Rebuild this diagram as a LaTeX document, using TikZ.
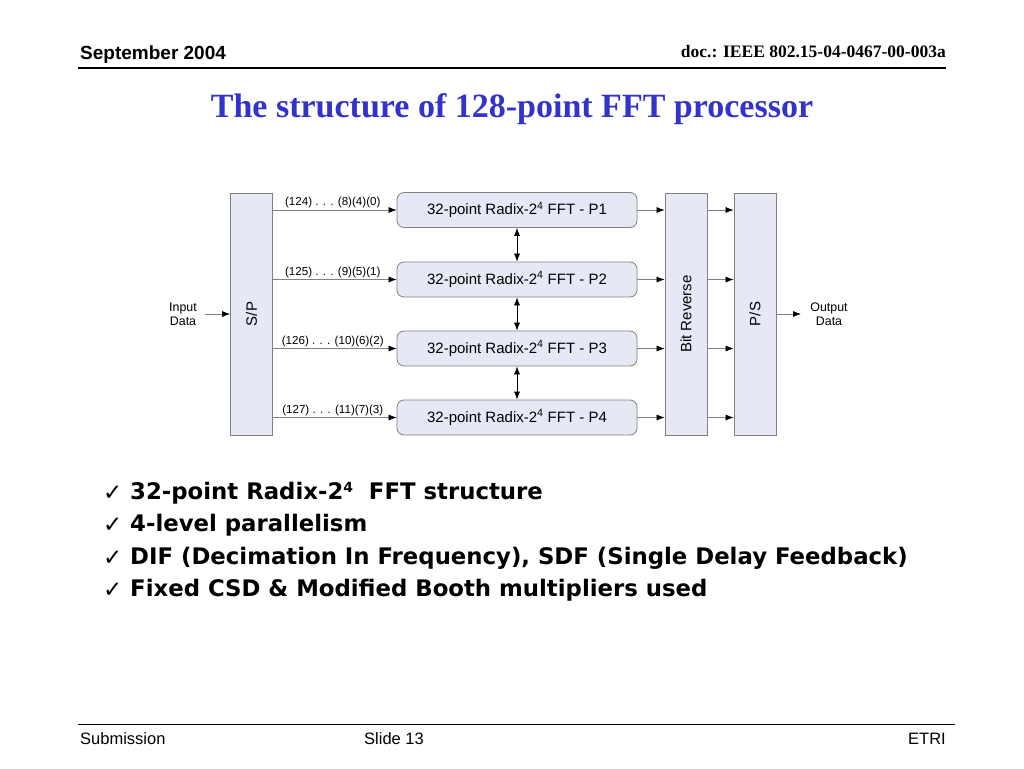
\documentclass[tikz,border=0pt]{standalone}
\usepackage{fontspec}
\setmainfont{Liberation Serif}
\setsansfont{Liberation Sans}
\newfontfamily\verd{DejaVu Sans}
\usetikzlibrary{arrows.meta}
\definecolor{boxfill}{RGB}{230,233,245}
\definecolor{boxline}{RGB}{128,128,128}
\definecolor{titleblue}{RGB}{51,51,204}
\newcommand{\smallsup}[1]{\raisebox{0.55ex}{\fontsize{14}{16}\selectfont #1}}
\begin{document}
\begin{tikzpicture}[x=1pt,y=-1pt,
  blk/.style={draw=boxline, fill=boxfill, line width=0.8pt, inner sep=0pt},
  fftbox/.style={blk, rounded corners=7pt, minimum width=240pt, minimum height=35pt, font=\sffamily\fontsize{15}{17}\selectfont},
  tallbox/.style={blk, minimum width=42pt, minimum height=242pt},
  rlabel/.style={rotate=90, font=\sffamily\fontsize{15}{17}\selectfont},
  arr/.style={draw=boxline, line width=0.7pt, -{Latex[length=8pt,width=6pt,color=black]}},
  darr/.style={draw=black, line width=0.7pt, {Latex[length=8pt,width=6pt]}-{Latex[length=8pt,width=6pt]}},
  idx/.style={font=\sffamily\fontsize{11.6}{13}\selectfont, inner sep=1.5pt},
  io/.style={font=\sffamily\fontsize{12.4}{14}\selectfont, align=center, inner sep=1pt},
  bullet/.style={anchor=west, font=\verd\bfseries\fontsize{22.8}{26}\selectfont, inner sep=0pt},
  tick/.style={anchor=west, font=\verd\fontsize{23}{26}\selectfont, inner sep=0pt}
]
\useasboundingbox (0,0) rectangle (1024,768);
\fill[white] (0,0) rectangle (1024,768);

% header
\node[anchor=west, font=\sffamily\bfseries\fontsize{19}{21}\selectfont, inner sep=0pt] (hdate) at (80,55) {September 2004};
\node[anchor=east, font=\bfseries\fontsize{17.5}{20}\selectfont, inner sep=0pt] (hdoc) at (946,52) {doc.: IEEE 802.15-04-0467-00-003a};
\draw[line width=1.5pt] (78,68) -- (946,68);
\node[font=\bfseries\fontsize{34}{38}\selectfont, text=titleblue] (title) at (512,109) {The structure of 128-point FFT processor};

% diagram boxes
\node[tallbox] (sp) at (251.5,314) {};
\node[rlabel] at (sp) {S/P};
\node[tallbox] (br) at (686,314) {};
\node[rlabel] at (br) {Bit Reverse};
\node[tallbox] (ps) at (755,314) {};
\node[rlabel] at (ps) {P/S};

\node[fftbox] (f1) at (517,210) {32-point Radix-2\textsuperscript{4} FFT - P1};
\node[fftbox] (f2) at (517,279.5) {32-point Radix-2\textsuperscript{4} FFT - P2};
\node[fftbox] (f3) at (517,348.5) {32-point Radix-2\textsuperscript{4} FFT - P3};
\node[fftbox] (f4) at (517,417.5) {32-point Radix-2\textsuperscript{4} FFT - P4};

% S/P to FFT
\draw[arr] (sp.east |- f1.west) -- node[idx, midway, above, xshift=-2pt] {(124) . . . (8)(4)(0)} (f1.west);
\draw[arr] (sp.east |- f2.west) -- node[idx, midway, above, xshift=-2pt] {(125) . . . (9)(5)(1)} (f2.west);
\draw[arr] (sp.east |- f3.west) -- node[idx, midway, above, xshift=-2pt] {(126) . . . (10)(6)(2)} (f3.west);
\draw[arr] (sp.east |- f4.west) -- node[idx, midway, above, xshift=-2pt] {(127) . . . (11)(7)(3)} (f4.west);

% FFT to Bit Reverse
\foreach \f in {f1,f2,f3,f4}{
  \draw[arr] (\f.east) -- (br.west |- \f.east);
  \draw[arr] (br.east |- \f.east) -- (ps.west |- \f.east);
}

% vertical double arrows
\draw[darr] (f1.south) -- (f2.north);
\draw[darr] (f2.south) -- (f3.north);
\draw[darr] (f3.south) -- (f4.north);

% input / output
\node[io] (in) at (183,314) {Input\\Data};
\coordinate (inS) at (205,314);
\draw[arr] (inS) -- (sp.west |- inS);
\node[io] (out) at (829,314) {Output\\Data};
\coordinate (outE) at (801,314);
\draw[arr] (ps.east |- outE) -- (outE);

% bullets
\node[tick] (t1) at (103,493) {✓};
\node[bullet] (b1) at (130,493) {32-point Radix-2\smallsup{4}\ \ FFT structure};
\node[tick] (t2) at (103,525) {✓};
\node[bullet] (b2) at (130,525) {4-level parallelism};
\node[tick] (t3) at (103,558) {✓};
\node[bullet] (b3) at (130,558) {DIF (Decimation In Frequency), SDF (Single Delay Feedback)};
\node[tick] (t4) at (103,590) {✓};
\node[bullet] (b4) at (130,590) {Fixed CSD \& Modified Booth multipliers used};

% footer
\draw[line width=1pt] (78,724) -- (955,724);
\node[anchor=west, font=\sffamily\fontsize{16.5}{18}\selectfont, inner sep=0pt] (fsub) at (80,739) {Submission};
\node[font=\sffamily\fontsize{16.5}{18}\selectfont, inner sep=0pt] (fslide) at (394,739) {Slide 13};
\node[anchor=east, font=\sffamily\fontsize{16.5}{18}\selectfont, inner sep=0pt] (fetri) at (946,739) {ETRI};
\end{tikzpicture}
\end{document}
